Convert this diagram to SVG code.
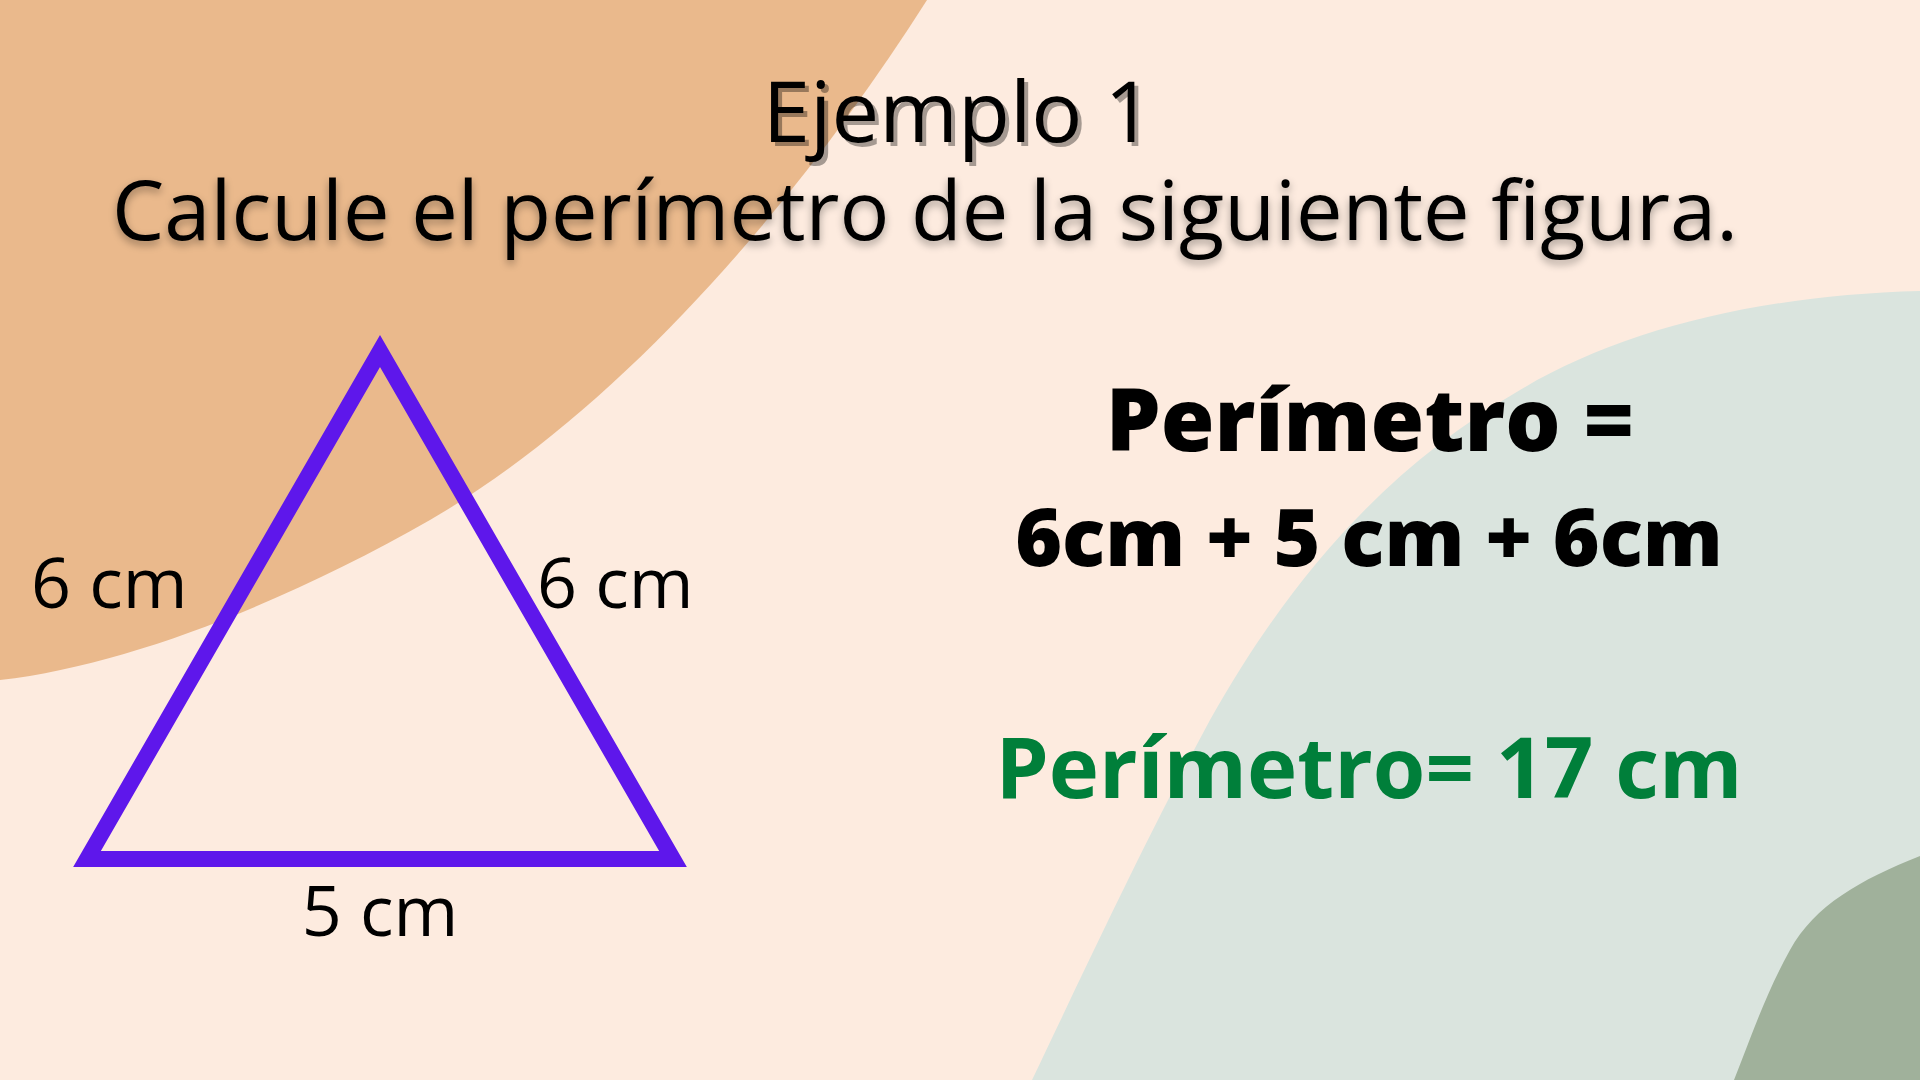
<svg xmlns="http://www.w3.org/2000/svg" width="1920" height="1080" viewBox="0 0 1920 1080">
  <style>
    .title { font-family: "Open Sans", "Liberation Sans", sans-serif; font-size: 83px; fill: #000; text-anchor: middle; }
    .lbl { font-family: "Open Sans", "Liberation Sans", sans-serif; font-size: 70px; fill: #000; }
    .eq { font-family: "Open Sans", "Liberation Sans", sans-serif; font-weight: 800; fill: #000; text-anchor: middle; }
    .res { font-family: "Open Sans", "Liberation Sans", sans-serif; font-size: 85px; font-weight: 700; fill: #007F3A; text-anchor: middle; }
  </style>
  <defs>
    <filter id="soft" x="-5%" y="-30%" width="110%" height="160%">
      <feGaussianBlur in="SourceAlpha" stdDeviation="4"/>
      <feOffset dx="0" dy="4" result="b"/>
      <feComponentTransfer><feFuncA type="linear" slope="0.35"/></feComponentTransfer>
      <feMerge><feMergeNode/><feMergeNode in="SourceGraphic"/></feMerge>
    </filter>
    <filter id="hard" x="-5%" y="-20%" width="110%" height="140%">
      <feOffset in="SourceAlpha" dx="4" dy="4"/>
      <feComponentTransfer><feFuncA type="linear" slope="0.35"/></feComponentTransfer>
      <feMerge><feMergeNode/><feMergeNode in="SourceGraphic"/></feMerge>
    </filter>
  </defs>
  <g id="background">
    <rect width="1920" height="1080" fill="#FDEBDF"/>
    <path d="M0,0 H927 C 800,200 620,410 430,520 C 290,600 130,665 0,680 Z" fill="#EAB98C"/>
    <path d="M1920,291 C 1760,295 1620,330 1520,390 C 1400,460 1300,560 1210,720 C 1140,850 1080,980 1032,1080 H1920 Z" fill="#DAE4DE"/>
    <path d="M1920,856 C 1860,880 1815,905 1790,950 C 1765,995 1750,1040 1734,1080 H1920 Z" fill="#A0B19B"/>
  </g>
  <g id="title">
    <text class="title" x="958" y="142" style="font-size:85px" filter="url(#hard)">Ejemplo 1</text>
    <text class="title" x="925" y="240" filter="url(#soft)">Calcule el perímetro de la siguiente figura.</text>
  </g>
  <g id="triangle">
    <polygon points="380,351 87,859 673,859" fill="none" stroke="#5E17EB" stroke-width="16" stroke-linejoin="miter"/>
  </g>
  <g id="labels">
    <text class="lbl" x="31" y="608">6 cm</text>
    <text class="lbl" x="537" y="608">6 cm</text>
    <text class="lbl" x="380" y="936" text-anchor="middle">5 cm</text>
  </g>
  <g id="solution">
    <text class="eq" x="1370" y="451" style="font-size:87px">Perímetro =</text>
    <text class="eq" x="1369" y="566" style="font-size:80px">6cm + 5 cm + 6cm</text>
    <text class="res" x="1369" y="798">Perímetro= 17 cm</text>
  </g>
</svg>
